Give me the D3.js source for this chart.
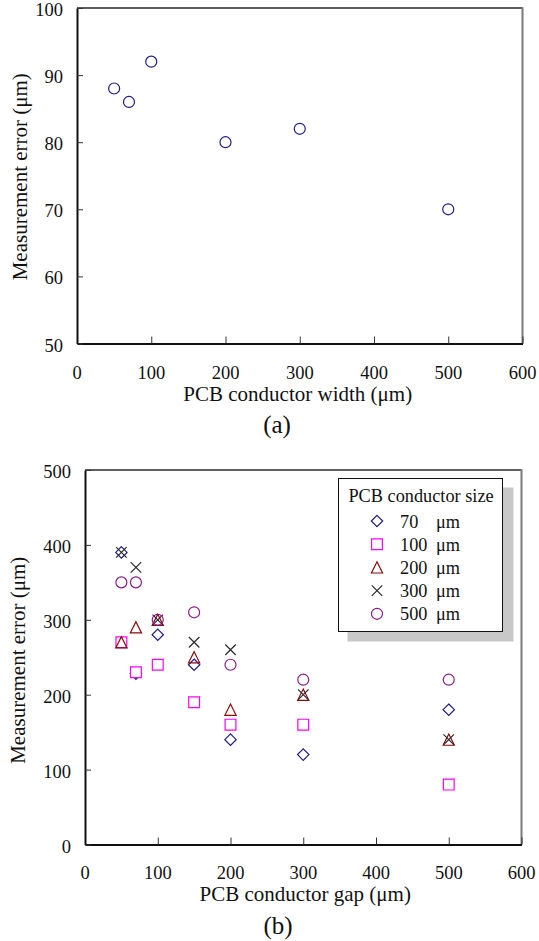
<!DOCTYPE html>
<html>
<head>
<meta charset="utf-8">
<script src="https://cdn.jsdelivr.net/npm/d3@7"></script>
<style>
  html, body { margin: 0; padding: 0; background: #fff; }
  svg { display: block; }
  text { font-family: "Liberation Serif", "Times New Roman", serif; fill: #111; }
</style>
</head>
<body>
<svg id="chart" width="539" height="941"></svg>
<script>
// (a) measurement error vs. conductor width
const widthValues = [50, 70, 100, 200, 300, 500];
const widthErrors = [88, 86, 92, 80, 82, 70];
const widthXTicks = [0, 100, 200, 300, 400, 500, 600];
const widthYTicks = [50, 60, 70, 80, 90, 100];

// (b) measurement error vs. conductor gap, one series per conductor size
const sizeLabels = ["70", "100", "200", "300", "500"];
const gaps70  = [50, 70, 100, 150, 200, 300, 500];
const err70   = [390, 228, 280, 240, 140, 120, 180];
const gaps100 = [50, 70, 100, 150, 200, 300, 500];
const err100  = [270, 230, 240, 190, 160, 160, 80];
const gaps200 = [50, 70, 100, 150, 200, 300, 500];
const err200  = [270, 290, 300, 250, 180, 200, 140];
const gaps300 = [50, 70, 100, 150, 200, 300, 500];
const err300  = [390, 370, 300, 270, 260, 200, 140];
const gaps500 = [50, 70, 100, 150, 200, 300, 500];
const err500  = [350, 350, 300, 310, 240, 220, 220];
const gapXTicks = [0, 100, 200, 300, 400, 500, 600];
const gapYTicks = [0, 100, 200, 300, 400, 500];

const svg = d3.select("#chart");

// marker shapes (size = full width in px)
const shapes = {
  diamond: s => { const h = s / 2; return `M0,${-h}L${h},0L0,${h}L${-h},0Z`; },
  square:  s => { const h = s / 2; return `M${-h},${-h}H${h}V${h}H${-h}Z`; },
  triangle: s => { const h = s / 2; return `M0,${-h}L${h},${h}L${-h},${h}Z`; },
  cross:   s => { const h = s / 2; return `M${-h},${-h}L${h},${h}M${h},${-h}L${-h},${h}`; },
  circle:  s => { const r = s / 2; return `M${r},0A${r},${r} 0 1,1 ${-r},0A${r},${r} 0 1,1 ${r},0Z`; }
};

function frame(g, x, y, opts) {
  const [x0, x1] = x.range();
  const [y0, y1] = y.range(); // y0 bottom, y1 top
  // plot-area border (top & right)
  g.append("line").attr("x1", x0).attr("x2", x1).attr("y1", y1).attr("y2", y1)
    .attr("stroke", "#2a2a2a").attr("stroke-width", 1.4);
  g.append("line").attr("x1", x1).attr("x2", x1).attr("y1", y1 - 0.7).attr("y2", y0)
    .attr("stroke", "#7a7a7a").attr("stroke-width", 2);

  // x axis: ticks pointing into the plot
  const xa = g.append("g").attr("transform", `translate(0,${y0})`)
    .call(d3.axisBottom(x).tickValues(opts.xTicks).tickSizeInner(-7).tickSizeOuter(0).tickFormat(d3.format("d")));
  xa.select(".domain").attr("stroke", "#111").attr("stroke-width", 2);
  xa.selectAll(".tick line").attr("stroke", "#333").attr("stroke-width", 1);
  xa.selectAll(".tick text").remove();
  g.append("g").selectAll("text").data(opts.xTicks).join("text")
    .attr("x", d => x(d)).attr("y", opts.xTickBase)
    .attr("text-anchor", "middle").attr("font-size", 18.5).text(d => d);

  // y axis
  const ya = g.append("g").attr("transform", `translate(${x0},0)`)
    .call(d3.axisLeft(y).tickValues(opts.yTicks).tickSizeInner(-6).tickSizeOuter(0).tickFormat(d3.format("d")));
  ya.select(".domain").attr("stroke", "#111").attr("stroke-width", 2);
  ya.selectAll(".tick line").attr("stroke", "#333").attr("stroke-width", 1);
  ya.selectAll(".tick text").remove();
  g.append("g").selectAll("text").data(opts.yTicks).join("text")
    .attr("x", x0 - 14).attr("y", d => y(d) + 8)
    .attr("text-anchor", "end").attr("font-size", 18.5).text(d => d);

  // axis titles
  g.append("text").attr("x", (x0 + x1) / 2 + opts.xTitleShift).attr("y", opts.xTitleBase)
    .attr("text-anchor", "middle").attr("font-size", 21).text(opts.xTitle);
  g.append("text")
    .attr("transform", `translate(${opts.yTitleX},${(y0 + y1) / 2 + opts.yTitleShift}) rotate(-90)`)
    .attr("text-anchor", "middle").attr("font-size", 21).text("Measurement error (\u03bcm)");
  // panel tag
  g.append("text").attr("x", opts.tagX).attr("y", opts.tagBase)
    .attr("text-anchor", "middle").attr("font-size", 25).text(opts.tag);
}

// ---------- panel (a) ----------
{
  const x = d3.scaleLinear().domain([0, 600]).range([77, 522.5]);
  const y = d3.scaleLinear().domain([50, 100]).range([343.5, 8]);
  const g = svg.append("g");
  frame(g, x, y, {
    xTicks: widthXTicks, yTicks: widthYTicks, xTickBase: 378.5, xTitleBase: 401, xTitleShift: -2,
    xTitle: "PCB conductor width (\u03bcm)", yTitleX: 27, yTitleShift: 1,
    tag: "(a)", tagX: 277, tagBase: 433
  });
  const pts = widthValues.map((v, i) => ({ x: v, y: widthErrors[i] }));
  g.append("g").selectAll("path").data(pts).join("path")
    .attr("transform", d => `translate(${x(d.x)},${y(d.y)})`)
    .attr("d", shapes.circle(11))
    .attr("fill", "none").attr("stroke", "#1c1c8a").attr("stroke-width", 1.2);
}

// ---------- panel (b) ----------
{
  const x = d3.scaleLinear().domain([0, 600]).range([85, 521.5]);
  const y = d3.scaleLinear().domain([0, 500]).range([844.5, 470]);
  const g = svg.append("g");
  frame(g, x, y, {
    xTicks: gapXTicks, yTicks: gapYTicks, xTickBase: 878.5, xTitleBase: 901, xTitleShift: 2,
    xTitle: "PCB conductor gap (\u03bcm)", yTitleX: 25, yTitleShift: 3,
    tag: "(b)", tagX: 278, tagBase: 934
  });

  const series = [
    { label: sizeLabels[0], gx: gaps70,  gy: err70,  shape: "diamond",  size: 11.4, color: "#1c1c8a", fill: "none" },
    { label: sizeLabels[1], gx: gaps100, gy: err100, shape: "square",   size: 10.8, color: "#ff00ff", fill: "#fff" },
    { label: sizeLabels[2], gx: gaps200, gy: err200, shape: "triangle", size: 11.2, color: "#8b0a0a", fill: "none" },
    { label: sizeLabels[3], gx: gaps300, gy: err300, shape: "cross",    size: 10.5, color: "#2a2a2a", fill: "none" },
    { label: sizeLabels[4], gx: gaps500, gy: err500, shape: "circle",   size: 11,   color: "#8a1a8a", fill: "none" }
  ];

  series.forEach(s => {
    const pts = s.gx.map((v, i) => ({ x: v, y: s.gy[i] }));
    g.append("g").selectAll("path").data(pts).join("path")
      .attr("transform", d => `translate(${x(d.x)},${y(d.y)})`)
      .attr("d", shapes[s.shape](s.size))
      .attr("fill", s.fill).attr("stroke", s.color).attr("stroke-width", 1.2);
  });

  // legend with drop shadow
  const lg = g.append("g");
  lg.append("rect").attr("x", 347.5).attr("y", 487.5).attr("width", 166).attr("height", 154)
    .attr("fill", "#c8c8c8");
  lg.append("rect").attr("x", 338.5).attr("y", 478.5).attr("width", 164).attr("height", 153)
    .attr("fill", "#fff").attr("stroke", "#111").attr("stroke-width", 1);
  lg.append("text").attr("x", 421).attr("y", 502).attr("text-anchor", "middle")
    .attr("font-size", 18.3).text("PCB conductor size");
  const row = lg.selectAll("g.row").data(series).join("g").attr("class", "row")
    .attr("transform", (d, i) => `translate(0,${521 + i * 23.2})`);
  row.append("path").attr("transform", "translate(377,0)")
    .attr("d", d => shapes[d.shape](d.size))
    .attr("fill", "none").attr("stroke", d => d.color).attr("stroke-width", 1.2);
  row.append("text").attr("x", 400).attr("y", 6.5).attr("font-size", 18.3).text(d => d.label);
  row.append("text").attr("x", 436).attr("y", 6.5).attr("font-size", 18.3).text("\u03bcm");
}
</script>
</body>
</html>
